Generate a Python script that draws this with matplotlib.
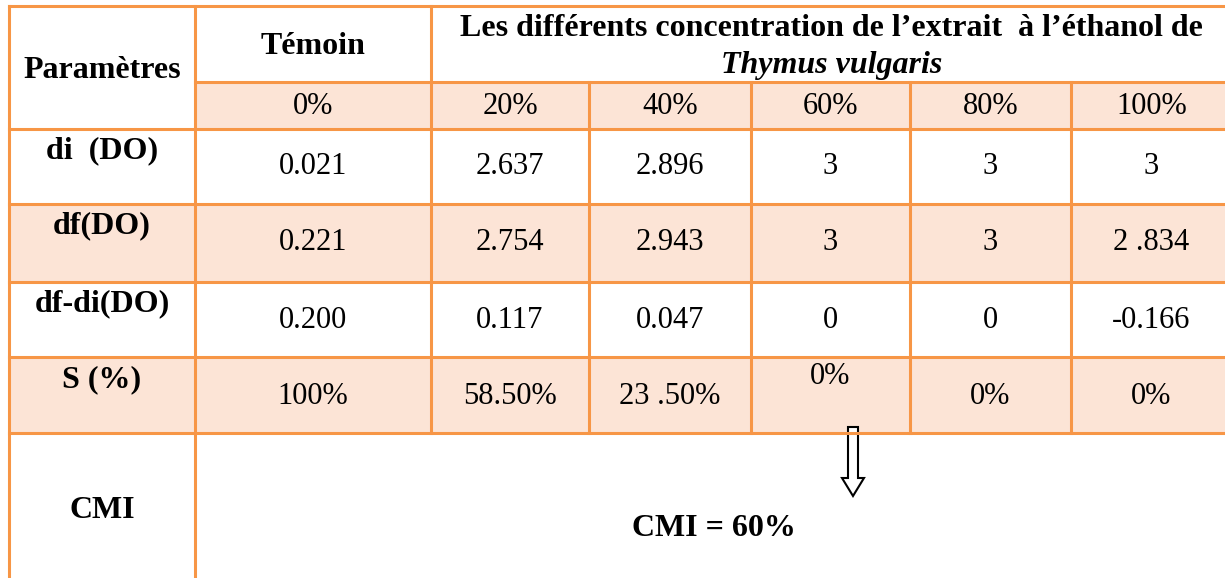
import matplotlib.pyplot as plt
from matplotlib.patches import Rectangle, Polygon

plt.rcParams['font.family'] = ['Liberation Serif', 'DejaVu Serif']

# table content
concentrations = ['0%', '20%', '40%', '60%', '80%', '100%']
row_labels = ['di  (DO)', 'df(DO)', 'df-di(DO)', 'S (%)']
di = ['0.021', '2.637', '2.896', '3', '3', '3']
df = ['0.221', '2.754', '2.943', '3', '3', '2 .834']
df_di = ['0.200', '0.117', '0.047', '0', '0', '-0.166']
survie = ['100%', '58.50%', '23 .50%', '0%', '0%', '0%']
cmi_text = 'CMI = 60%'

border = '#F79646'
shade = '#FCE4D6'
lw = 2.2
fs = 22      # plain cells
fsb = 23     # bold labels

# layout in pixels
col_x = [9, 195, 431, 589, 751, 910, 1071, 1232]
row_y = [6, 82, 129, 204, 282, 357, 433, 578]
W, H = 1225, 578

fig = plt.figure(figsize=(12.25, 5.78), dpi=100)
ax = fig.add_axes([0, 0, 1, 1])
ax.set_xlim(0, W)
ax.set_ylim(H, 0)
ax.axis('off')

# shading
ax.add_patch(Rectangle((col_x[1], row_y[1]), col_x[-1] - col_x[1], row_y[2] - row_y[1],
                       color=shade, lw=0))
for r in (3, 5):
    ax.add_patch(Rectangle((col_x[0], row_y[r]), col_x[-1] - col_x[0], row_y[r + 1] - row_y[r],
                           color=shade, lw=0))

# horizontal lines
ax.plot([col_x[0], col_x[-1]], [row_y[0]] * 2, color=border, lw=lw)
ax.plot([col_x[1], col_x[-1]], [row_y[1]] * 2, color=border, lw=lw)
for y in row_y[2:7]:
    ax.plot([col_x[0], col_x[-1]], [y, y], color=border, lw=lw)

# vertical lines
ax.plot([col_x[0]] * 2, [row_y[0], H], color=border, lw=lw)
ax.plot([col_x[1]] * 2, [row_y[0], H], color=border, lw=lw)
ax.plot([col_x[2]] * 2, [row_y[0], row_y[6]], color=border, lw=lw)
for x in col_x[3:7]:
    ax.plot([x, x], [row_y[1], row_y[6]], color=border, lw=lw)

# header
ax.text(102, 70, 'Paramètres', ha='center', va='center', fontsize=fsb, fontweight='bold')
ax.text(313, 47, 'Témoin', ha='center', va='center', fontsize=fsb, fontweight='bold')
hx = (col_x[2] + col_x[-1]) / 2
ax.text(hx, 28, 'Les différents concentration de l’extrait  à l’éthanol de',
        ha='center', va='center', fontsize=fsb, fontweight='bold')
ax.text(hx, 65, 'Thymus vulgaris', ha='center', va='center', fontsize=fsb,
        fontweight='bold', fontstyle='italic')

centers = [(col_x[i] + col_x[i + 1]) / 2 for i in range(1, 7)]
for cx, c in zip(centers, concentrations):
    ax.text(cx, 107, c, ha='center', va='center', fontsize=fs)

# body rows
label_y = [151, 226, 304, 380]
value_y = [167, 243, 321, 397]
for r, vals in enumerate([di, df, df_di, survie]):
    ax.text(102, label_y[r], row_labels[r], ha='center', va='center',
            fontsize=fsb, fontweight='bold')
    for i, (cx, v) in enumerate(zip(centers, vals)):
        y = value_y[r]
        if r == 3 and i == 3:
            y = 377
        ax.text(cx, y, v, ha='center', va='center', fontsize=fs)

# CMI row
ax.text(102, 510, 'CMI', ha='center', va='center', fontsize=fsb, fontweight='bold')
ax.text((col_x[1] + col_x[-1]) / 2, 528, cmi_text, ha='center', va='center',
        fontsize=fsb, fontweight='bold')

# hollow down arrow
arrow = Polygon([(848, 427), (858, 427), (858, 478), (864, 478), (853, 496),
                 (842, 478), (848, 478)], closed=True, facecolor='white',
                edgecolor='black', lw=1.5)
ax.add_patch(arrow)

fig.savefig('out.png', dpi=100)
